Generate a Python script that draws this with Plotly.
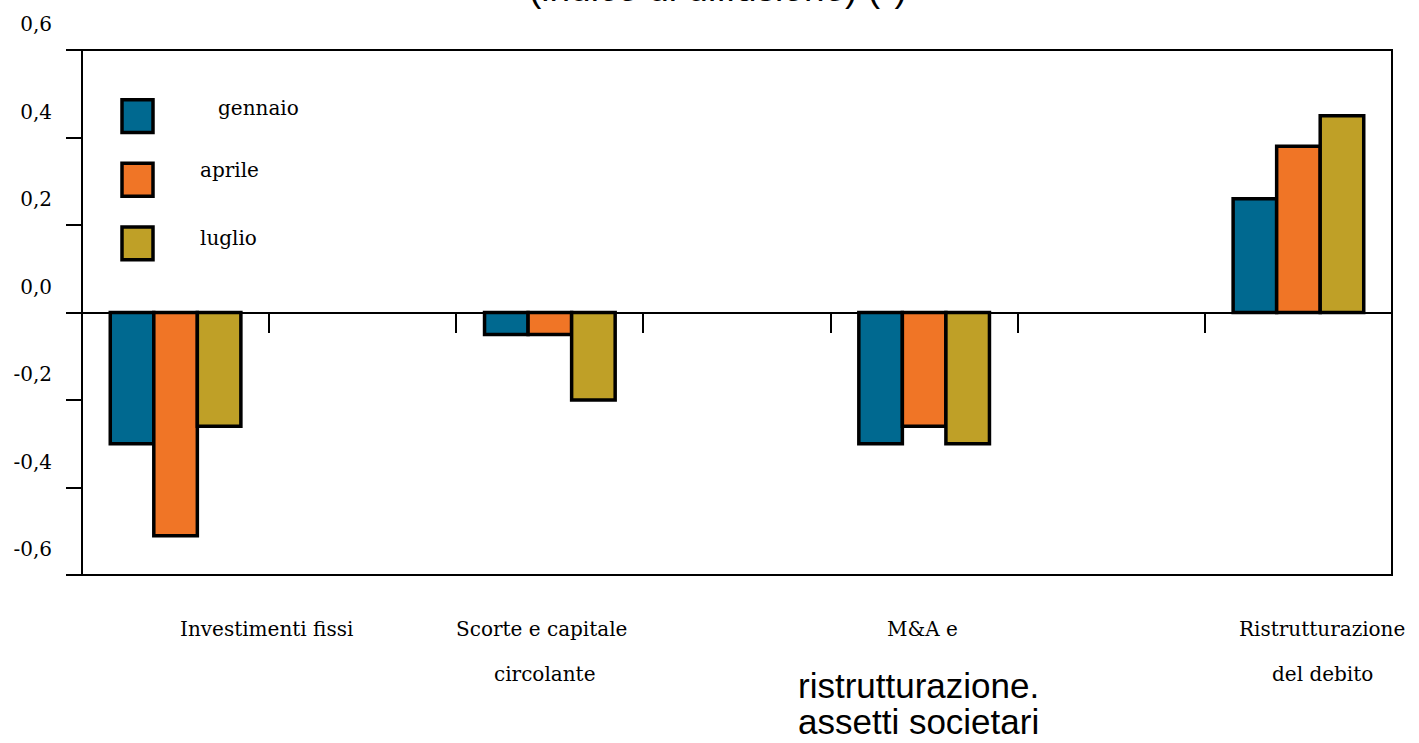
import plotly.graph_objects as go

# data
categories = ["Investimenti fissi", "Scorte e capitale circolante",
              "M&A e ristrutturazione. assetti societari", "Ristrutturazione del debito"]
series_names = ["gennaio", "aprile", "luglio"]
gennaio = [-0.30, -0.05, -0.30, 0.26]
aprile = [-0.51, -0.05, -0.26, 0.38]
luglio = [-0.26, -0.20, -0.30, 0.45]
y_tickvals = [-0.6, -0.4, -0.2, 0.0, 0.2, 0.4, 0.6]
y_ticktext = ["-0,6", "-0,4", "-0,2", "0,0", "0,2", "0,4", "0,6"]
title_text = "(indice di diffusione) (*)"

colors = ["#006990", "#F07526", "#BFA027"]
serif = "DejaVu Serif"
sans = "Liberation Sans"

W, H = 1419, 743
L, R, T, B = 82, 27, 47, 168
pw, ph = W - L - R, H - T - B


def px_x(px):
    return (px - L) / pw


def px_y(py):
    return (H - B - py) / ph


x = list(range(len(categories)))
fig = go.Figure()
for name, vals, col in zip(series_names, [gennaio, aprile, luglio], colors):
    fig.add_trace(go.Bar(x=x, y=vals, name=name, marker=dict(color=col, line=dict(color="black", width=3.5)),
                         showlegend=False))

# frame around the plot
fig.add_shape(type="rect", xref="paper", yref="paper", x0=0, x1=1, y0=0, y1=1,
              line=dict(color="black", width=2), layer="above")

# hand made legend (big boxes)
leg_box_top = [97, 161, 225]
leg_text = [(216, 105), (198, 168), (198, 236)]
for i, name in enumerate(series_names):
    fig.add_shape(type="rect", xref="paper", yref="paper",
                  x0=px_x(122), x1=px_x(153), y0=px_y(leg_box_top[i] + 33), y1=px_y(leg_box_top[i]),
                  fillcolor=colors[i], line=dict(color="black", width=3.5))
    fig.add_annotation(text=name, xref="paper", yref="paper", x=px_x(leg_text[i][0]), y=px_y(leg_text[i][1]),
                       xanchor="left", yanchor="middle", showarrow=False,
                       font=dict(family=serif, size=20, color="black"))

# category labels under the plot
cat_lines = [
    [("Investimenti fissi", 91, 629, serif, 20)],
    [("Scorte e capitale", -8, 629, serif, 20), ("circolante", -5, 675, serif, 20)],
    [("M&A e", -2, 629, serif, 20), ("ristrutturazione.", -6, 686, sans, 35),
     ("assetti societari", -6, 722, sans, 35)],
    [("Ristrutturazione", 24, 629, serif, 20), ("del debito", 24, 675, serif, 20)],
]
for i, lines in enumerate(cat_lines):
    for txt, dx, py, fam, sz in lines:
        fig.add_annotation(text=txt, xref="x", yref="paper", x=x[i], xshift=dx, y=px_y(py),
                           xanchor="center", yanchor="middle", showarrow=False,
                           font=dict(family=fam, size=sz, color="black"))

fig.add_annotation(text=title_text, xref="paper", yref="paper", x=px_x(718), y=px_y(-15),
                   xanchor="center", yanchor="middle", showarrow=False,
                   font=dict(family=sans, size=37, color="black"))

fig.update_layout(
    width=W, height=H,
    margin=dict(l=L, r=R, t=T, b=B),
    plot_bgcolor="white", paper_bgcolor="white",
    barmode="group", bargap=0.651, bargroupgap=0,
    xaxis=dict(range=[-0.25, 3.25], tickvals=[0.25, 0.75, 1.25, 1.75, 2.25, 2.75],
               ticks="outside", ticklen=19, tickwidth=2, tickcolor="black",
               showticklabels=False, showgrid=False, zeroline=False,
               showline=True, linecolor="black", linewidth=2,
               anchor="free", position=0.5),
    yaxis=dict(range=[-0.6, 0.6], tickvals=y_tickvals, ticktext=y_ticktext,
               ticks="outside", ticklen=15, tickwidth=2, tickcolor="black",
               showgrid=False, zeroline=False, showline=False,
               ticklabelshift=-26, ticklabelstandoff=10,
               tickfont=dict(family=serif, size=20, color="black")),
)

fig.write_html("out.html", config={"displayModeBar": False},
               post_script="document.body.style.margin='0';")
